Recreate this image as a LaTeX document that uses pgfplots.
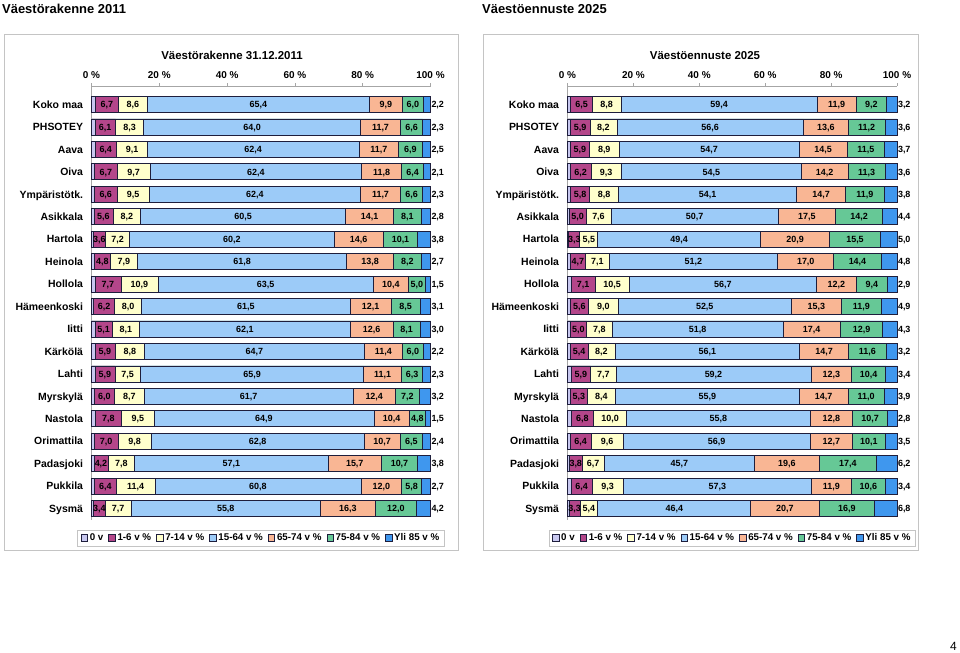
\documentclass[border=0pt]{standalone}
\usepackage{pgfplots}
\pgfplotsset{compat=1.18}
\usepackage{pgfplotstable}
\usepackage{fontspec}
\setmainfont{Liberation Sans}

\definecolor{c0}{HTML}{C8C8F0}
\definecolor{c1}{HTML}{B4468A}
\definecolor{c2}{HTML}{FFFFCC}
\definecolor{c3}{HTML}{9CCBF8}
\definecolor{c4}{HTML}{F9B694}
\definecolor{c5}{HTML}{66C896}
\definecolor{c6}{HTML}{3F97EE}
\definecolor{edge}{HTML}{1E1E3C}
\definecolor{framec}{HTML}{C4C4C4}
\definecolor{axgray}{HTML}{A6A6A6}

% 0 v, 1-6, 7-14, 15-64, 65-74, 75-84, Yli 85 (%)
\pgfplotstableread{
row a b c d e f g
0 1.2 6.7 8.6 65.4 9.9 6.0 2.2
1 1.0 6.1 8.3 64.0 11.7 6.6 2.3
2 1.0 6.4 9.1 62.4 11.7 6.9 2.5
3 0.9 6.7 9.7 62.4 11.8 6.4 2.1
4 0.9 6.6 9.5 62.4 11.7 6.6 2.3
5 0.7 5.6 8.2 60.5 14.1 8.1 2.8
6 0.5 3.6 7.2 60.2 14.6 10.1 3.8
7 0.8 4.8 7.9 61.8 13.8 8.2 2.7
8 1.0 7.7 10.9 63.5 10.4 5.0 1.5
9 0.6 6.2 8.0 61.5 12.1 8.5 3.1
10 1.0 5.1 8.1 62.1 12.6 8.1 3.0
11 1.0 5.9 8.8 64.7 11.4 6.0 2.2
12 1.0 5.9 7.5 65.9 11.1 6.3 2.3
13 0.8 6.0 8.7 61.7 12.4 7.2 3.2
14 1.1 7.8 9.5 64.9 10.4 4.8 1.5
15 0.8 7.0 9.8 62.8 10.7 6.5 2.4
16 0.7 4.2 7.8 57.1 15.7 10.7 3.8
17 0.9 6.4 11.4 60.8 12.0 5.8 2.7
18 0.6 3.4 7.7 55.8 16.3 12.0 4.2
}\tabL

\pgfplotstableread{
row a b c d e f g
0 1.0 6.5 8.8 59.4 11.9 9.2 3.2
1 0.9 5.9 8.2 56.6 13.6 11.2 3.6
2 0.8 5.9 8.9 54.7 14.5 11.5 3.7
3 0.9 6.2 9.3 54.5 14.2 11.3 3.6
4 0.9 5.8 8.8 54.1 14.7 11.9 3.8
5 0.6 5.0 7.6 50.7 17.5 14.2 4.4
6 0.4 3.3 5.5 49.4 20.9 15.5 5.0
7 0.8 4.7 7.1 51.2 17.0 14.4 4.8
8 1.2 7.1 10.5 56.7 12.2 9.4 2.9
9 0.8 5.6 9.0 52.5 15.3 11.9 4.9
10 0.8 5.0 7.8 51.8 17.4 12.9 4.3
11 0.8 5.4 8.2 56.1 14.7 11.6 3.2
12 1.1 5.9 7.7 59.2 12.3 10.4 3.4
13 0.8 5.3 8.4 55.9 14.7 11.0 3.9
14 1.1 6.8 10.0 55.8 12.8 10.7 2.8
15 0.8 6.4 9.6 56.9 12.7 10.1 3.5
16 0.6 3.8 6.7 45.7 19.6 17.4 6.2
17 1.1 6.4 9.3 57.3 11.9 10.6 3.4
18 0.5 3.3 5.4 46.4 20.7 16.9 6.8
}\tabR

\newcommand{\addcum}[1]{%
\pgfplotstablecreatecol[create col/expr={\thisrow{a}}]{ca}#1%
\pgfplotstablecreatecol[create col/expr={\thisrow{ca}+\thisrow{b}}]{cb}#1%
\pgfplotstablecreatecol[create col/expr={\thisrow{cb}+\thisrow{c}}]{cc}#1%
\pgfplotstablecreatecol[create col/expr={\thisrow{cc}+\thisrow{d}}]{cd}#1%
\pgfplotstablecreatecol[create col/expr={\thisrow{cd}+\thisrow{e}}]{ce}#1%
\pgfplotstablecreatecol[create col/expr={\thisrow{ce}+\thisrow{f}}]{cf}#1%
\pgfplotstablecreatecol[create col/expr={\thisrow{cf}+\thisrow{g}}]{cg}#1%
\pgfplotstablecreatecol[create col/expr={\thisrow{cb}-0.5*\thisrow{b}}]{mb}#1%
\pgfplotstablecreatecol[create col/expr={\thisrow{cc}-0.5*\thisrow{c}}]{mc}#1%
\pgfplotstablecreatecol[create col/expr={\thisrow{cd}-0.5*\thisrow{d}}]{md}#1%
\pgfplotstablecreatecol[create col/expr={\thisrow{ce}-0.5*\thisrow{e}}]{me}#1%
\pgfplotstablecreatecol[create col/expr={\thisrow{cf}-0.5*\thisrow{f}}]{mf}#1%
}
\addcum{\tabL}
\addcum{\tabR}

\pgfplotsset{
  panel/.style={
    scale only axis, height=433.3bp,
    xmin=0, xmax=100, ymin=-18.5, ymax=0.8,
    axis x line*=top, axis y line*=left,
    axis line style={draw=axgray, line width=0.7bp, -},
    xtick={0,20,40,60,80,100},
    xticklabels={0 \%,20 \%,40 \%,60 \%,80 \%,100 \%},
    ytick={-18,-17,...,0},
    yticklabels={Sysmä,Pukkila,Padasjoki,Orimattila,Nastola,Myrskylä,Lahti,Kärkölä,Iitti,Hämeenkoski,Hollola,Heinola,Hartola,Asikkala,Ympäristötk.,Oiva,Aava,PHSOTEY,Koko maa},
    tick align=outside, major tick length=3bp,
    x tick style={draw=axgray, line width=0.7bp},
    y tick style={draw=none},
    xticklabel style={font=\bfseries\fontsize{10}{12}\selectfont, yshift=1bp},
    yticklabel style={font=\bfseries\fontsize{10.5}{12}\selectfont, xshift=-2bp,
      text height=7.5bp, text depth=0pt},
    /pgf/number format/.cd, use comma, fixed, fixed zerofill, precision=1, assume math mode=true,
    /pgfplots/.cd,
    clip=false,
    legend style={at={(axis description cs:0.5,-0.0235)}, anchor=north,
      draw=framec, line width=0.6bp, font=\bfseries\fontsize{9.8}{12}\selectfont,
      inner xsep=3bp, inner ysep=1.5bp,
      /tikz/every even column/.append style={column sep=3bp}},
    legend columns=-1,
    legend image code/.code={\draw[#1, line width=0.6bp] (0bp,-3bp) rectangle (6.5bp,3.5bp);},
  },
  seg/.style={xbar, bar width=16bp, bar shift=0pt, draw=edge, line width=0.7bp, fill=#1, forget plot},
  lab/.style={only marks, mark=*, mark size=0pt, mark options={draw=none,fill=none},
    nodes near coords, nodes near coords align={center}, point meta=explicit, forget plot,
    every node near coord/.append style={font=\bfseries\fontsize{9}{10}\selectfont, text=black,
      inner sep=0pt, text height=6.4bp, text depth=0pt}},
  labr/.style={lab, every node near coord/.append style={anchor=west, xshift=0.8bp}},
}

\newcommand{\drawpanel}[1]{%
\addlegendimage{fill=c0, draw=edge}\addlegendentry{0 v}
\addlegendimage{fill=c1, draw=edge}\addlegendentry{1-6 v \%}
\addlegendimage{fill=c2, draw=edge}\addlegendentry{7-14 v \%}
\addlegendimage{fill=c3, draw=edge}\addlegendentry{15-64 v \%}
\addlegendimage{fill=c4, draw=edge}\addlegendentry{65-74 v \%}
\addlegendimage{fill=c5, draw=edge}\addlegendentry{75-84 v \%}
\addlegendimage{fill=c6, draw=edge}\addlegendentry{Yli 85 v \%}
\addplot[seg=c6] table[x=cg, y expr=-\thisrow{row}] {#1};
\addplot[seg=c5] table[x=cf, y expr=-\thisrow{row}] {#1};
\addplot[seg=c4] table[x=ce, y expr=-\thisrow{row}] {#1};
\addplot[seg=c3] table[x=cd, y expr=-\thisrow{row}] {#1};
\addplot[seg=c2] table[x=cc, y expr=-\thisrow{row}] {#1};
\addplot[seg=c1] table[x=cb, y expr=-\thisrow{row}] {#1};
\addplot[seg=c0] table[x=ca, y expr=-\thisrow{row}] {#1};
\addplot[lab] table[x=mb, y expr=-\thisrow{row}, meta=b] {#1};
\addplot[lab] table[x=mc, y expr=-\thisrow{row}, meta=c] {#1};
\addplot[lab] table[x=md, y expr=-\thisrow{row}, meta=d] {#1};
\addplot[lab] table[x=me, y expr=-\thisrow{row}, meta=e] {#1};
\addplot[lab] table[x=mf, y expr=-\thisrow{row}, meta=f] {#1};
\addplot[labr] table[x=cg, y expr=-\thisrow{row}, meta=g] {#1};
}

\begin{document}
\begin{tikzpicture}[x=1bp,y=1bp]
\useasboundingbox (0,0) rectangle (960,-653);
\fill[white] (0,0) rectangle (960,-653);
% panel frames
\draw[framec, line width=0.8bp] (4.5,-34) rectangle (458,-550);
\draw[framec, line width=0.8bp] (483,-34) rectangle (918,-550);
% page titles
\node[anchor=west, inner sep=0pt, font=\bfseries\fontsize{13}{15}\selectfont] at (2,-9) {Väestörakenne 2011};
\node[anchor=west, inner sep=0pt, font=\bfseries\fontsize{13}{15}\selectfont] at (482,-9) {Väestöennuste 2025};
% chart titles
\node[inner sep=0pt, font=\bfseries\fontsize{11.5}{13}\selectfont] at (232,-55) {Väestörakenne 31.12.2011};
\node[inner sep=0pt, font=\bfseries\fontsize{11.5}{13}\selectfont] at (705,-56) {Väestöennuste 2025};
\node[inner sep=0pt, font=\fontsize{12}{14}\selectfont] at (953.5,-646) {4};

\begin{axis}[panel, at={(91.5bp,-86.5bp)}, anchor=north west, width=339bp]
\drawpanel{\tabL}
\end{axis}

\begin{axis}[panel, at={(567.5bp,-86.5bp)}, anchor=north west, width=329.5bp]
\drawpanel{\tabR}
\end{axis}
\end{tikzpicture}
\end{document}
